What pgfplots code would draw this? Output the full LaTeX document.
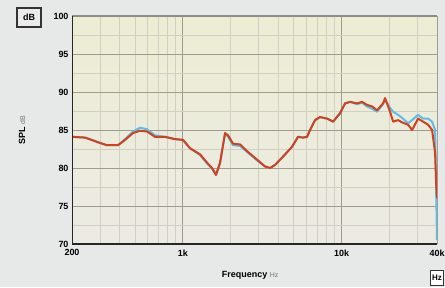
\documentclass[border=0pt]{standalone}
\usepackage{fontspec}
\setmainfont{Liberation Sans}
\usepackage{pgfplots}
\pgfplotsset{compat=1.18}
\definecolor{bgout}{HTML}{E7E8E8}
\definecolor{bgtop}{HTML}{EDEDD4}
\definecolor{bgbot}{HTML}{EBEBE4}
\definecolor{gridmaj}{HTML}{A29C8E}
\definecolor{gridmin}{HTML}{D2CFC2}
\definecolor{redc}{HTML}{D2401E}
\definecolor{bluec}{HTML}{5CBDE8}
\begin{document}
\begin{tikzpicture}[x=1bp,y=1bp]
\fill[bgout] (0,0) rectangle (445,287);
\useasboundingbox (0,0) rectangle (445,287);
\begin{axis}[
  at={(72bp,43bp)}, anchor=south west, scale only axis,
  width=365bp, height=228bp,
  xmode=log, xmin=200, xmax=40000, ymin=70, ymax=100,
  xtick={200,1000,10000,40000}, xticklabels={200,1k,10k,40k},
  minor xtick={300,400,500,600,700,800,900,2000,3000,4000,5000,6000,7000,8000,9000,20000,30000},
  ytick={70,75,80,85,90,95,100},
  minor ytick={72.5,77.5,82.5,87.5,92.5,97.5},
  grid=both,
  major grid style={gridmaj, line width=0.9bp},
  minor grid style={gridmin, line width=0.7bp},
  axis background/.style={top color=bgtop, bottom color=bgbot},
  axis line style={draw=none},
  tick style={draw=none},
  tick label style={font=\bfseries\fontsize{9}{10}\selectfont},
  /pgf/number format/assume math mode=true,
  xticklabel style={yshift=-2bp},
  xlabel={\bfseries Frequency {\mdseries\fontsize{7}{8}\selectfont\color{black!55} Hz}},
  xlabel style={at={(axis description cs:0.488,-0.136)}, anchor=center, font=\fontsize{9}{10}\selectfont},
  ylabel={\bfseries SPL {\mdseries\fontsize{7}{8}\selectfont\color{black!55} dB}},
  ylabel style={at={(axis description cs:-0.137,0.5)}, anchor=center, rotate=0, font=\fontsize{9}{10}\selectfont},
  line join=round,
]
\addplot[bluec, line width=2bp] coordinates {
(200,84.1) (242,84.0) (300,83.3) (332,83.0) (390,83.0) (432,83.8) (485,84.8) (537,85.3) (594,85.1) (667,84.3) (772,84.1) (892,83.8) (1002,83.7) (1109,82.6) (1283,81.7) (1420,80.6) (1527,79.9) (1618,79.1) (1715,80.6) (1844,84.5) (1926,84.1) (2071,83.0) (2293,82.9) (2575,82.0) (2935,81.0) (3296,80.2) (3544,80.0) (3811,80.4) (4280,81.5) (4878,82.8) (5321,84.1) (5721,84.0) (6066,84.1) (6334,85.0) (6812,86.3) (7322,86.7) (8108,86.5) (8845,86.1) (9790,87.2) (10530,88.5) (11320,88.7) (12530,88.4) (13480,88.6) (14490,88.1) (15580,87.8) (16750,87.4) (18280,88.4) (18820,89.0) (20240,87.9) (21140,87.4) (22730,87.0) (24090,86.6) (26280,85.9) (27850,86.3) (30380,87.0) (32680,86.5) (35130,86.5) (37240,86.1) (38900,85.0) (40000,70.5)
};
\addplot[redc, line width=2bp] coordinates {
(200,84.1) (242,84.0) (300,83.3) (332,83.0) (390,83.0) (432,83.7) (485,84.6) (537,84.9) (594,84.8) (667,84.1) (772,84.1) (892,83.8) (1002,83.7) (1109,82.6) (1283,81.8) (1420,80.7) (1527,80.0) (1618,79.1) (1715,80.7) (1844,84.6) (1926,84.3) (2071,83.2) (2293,83.1) (2575,82.1) (2935,81.1) (3296,80.2) (3544,80.0) (3811,80.4) (4280,81.5) (4878,82.8) (5321,84.1) (5721,84.0) (6066,84.1) (6334,85.0) (6812,86.3) (7322,86.7) (8108,86.5) (8845,86.1) (9790,87.2) (10530,88.5) (11320,88.7) (12530,88.5) (13480,88.7) (14490,88.3) (15580,88.1) (16750,87.6) (18280,88.5) (18820,89.2) (20240,87.4) (21140,86.1) (22730,86.3) (24090,86.0) (26280,85.7) (27850,85.0) (30380,86.5) (32680,86.1) (35130,85.7) (37240,85.0) (38900,82.0) (39600,77.5) (40000,76.0)
};
\draw[black!35, line width=1bp] (rel axis cs:1,1) -- (rel axis cs:1,0);
\draw[black!45, line width=2.5bp] (rel axis cs:0,1) -- (rel axis cs:1,1);
\draw[black!85, line width=1.5bp] (rel axis cs:0,1) -- (rel axis cs:0,0) -- (rel axis cs:1,0);
\end{axis}
\node[draw=black!80, line width=1.5bp, fill=black!8, inner sep=2bp, minimum width=24bp, minimum height=19bp, font=\bfseries\fontsize{9}{10}\selectfont] at (29,269.5) {dB};
\node[draw=black!80, line width=1.2bp, fill=white, inner sep=1.5bp, minimum height=15bp, anchor=south east, font=\bfseries\fontsize{8}{9}\selectfont] at (444,1) {Hz};
\end{tikzpicture}
\end{document}
